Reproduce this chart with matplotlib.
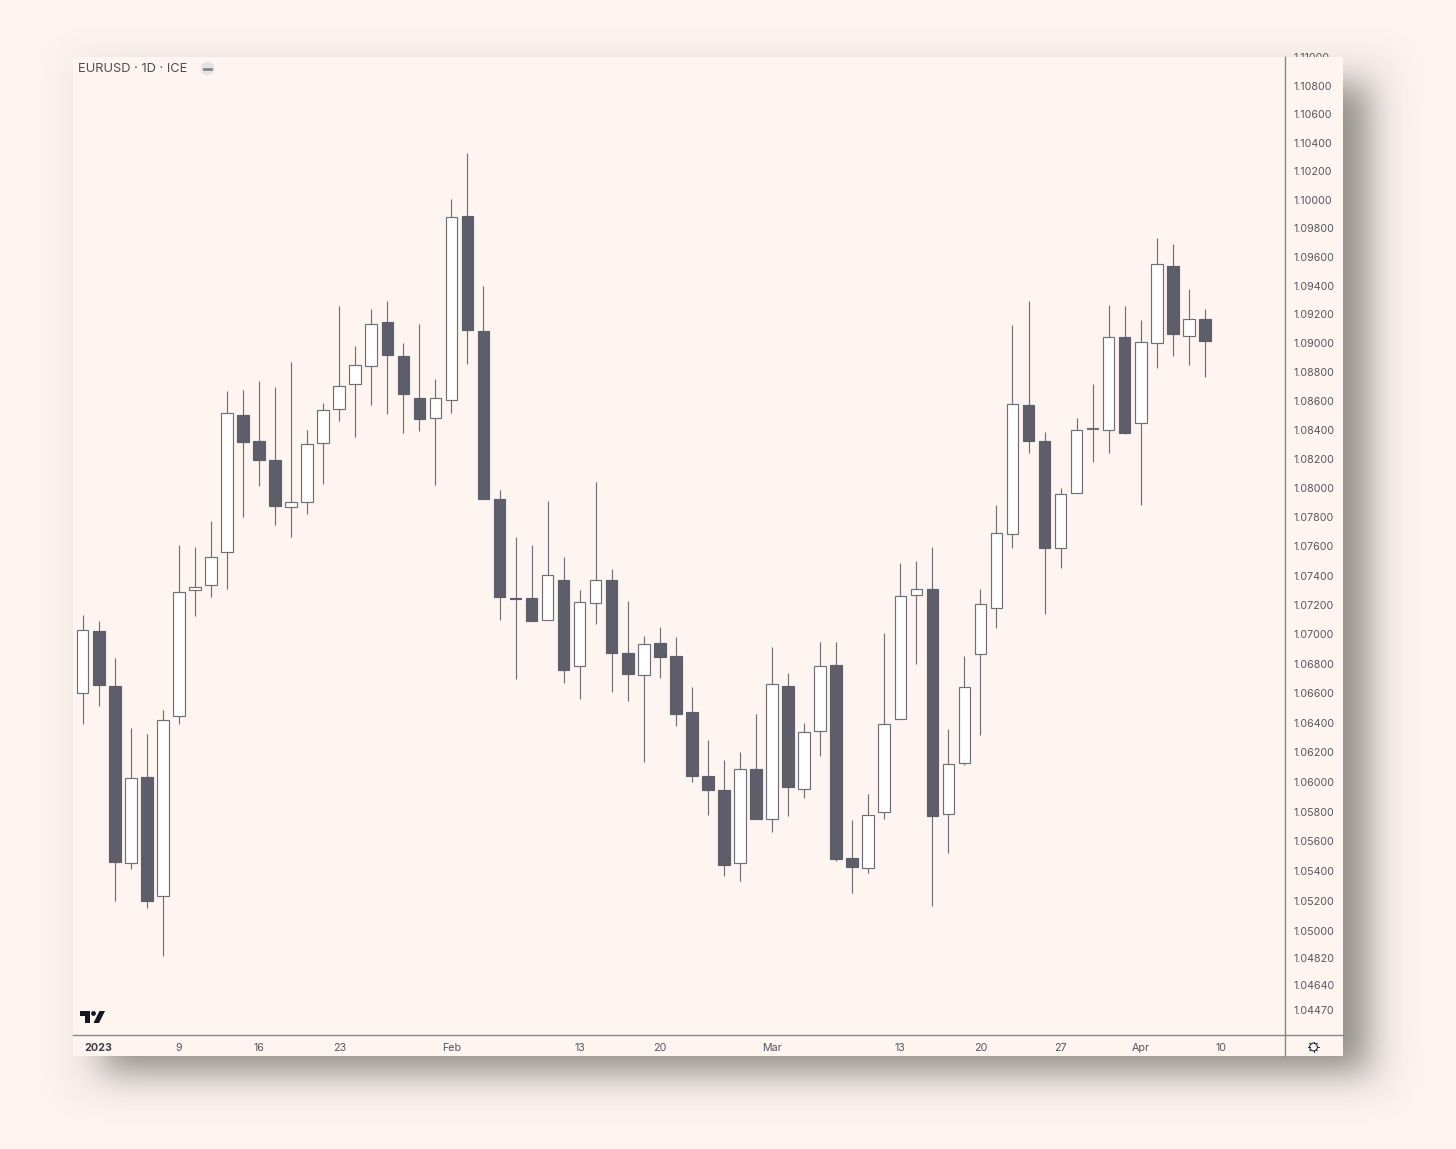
import math

import matplotlib
matplotlib.use("Agg")
import matplotlib.pyplot as plt
import numpy as np
from matplotlib.lines import Line2D
from matplotlib.patches import Circle, Polygon, Rectangle
from matplotlib.ticker import NullLocator
from matplotlib.transforms import Affine2D, TransformedBbox, Bbox

W, H = 1456, 1149
BG = "#fef4ef"
PANEL = "#fef5f0"
DARK = "#5d5e69"
EDGE = "#6e6f78"
TEXT = "#55565e"

opens = [1.06604, 1.07024, 1.06651, 1.05457, 1.06035, 1.05235, 1.06448, 1.07304, 1.07339, 1.07564,
         1.08506, 1.08326, 1.08195, 1.07872, 1.07906, 1.08313, 1.08547, 1.08720, 1.08844, 1.09149,
         1.08913, 1.08623, 1.08485, 1.08609, 1.09887, 1.09086, 1.07927, 1.07250, 1.07250, 1.07099,
         1.07373, 1.06787, 1.07215, 1.07373, 1.06875, 1.06726, 1.06942, 1.06854, 1.06475, 1.06041,
         1.05947, 1.05457, 1.06089, 1.05752, 1.06651, 1.05954, 1.06346, 1.06793, 1.05490, 1.05423,
         1.05799, 1.06428, 1.07270, 1.07311, 1.05786, 1.06129, 1.06868, 1.07181, 1.07687, 1.08575,
         1.08326, 1.07592, 1.07968, 1.08409, 1.08402, 1.09045, 1.08451, 1.09003, 1.09539, 1.09051,
         1.09170]
highs = [1.07133, 1.07092, 1.06841, 1.06367, 1.06326, 1.06488, 1.07612, 1.07598, 1.07776, 1.08672,
         1.08678, 1.08741, 1.08699, 1.08872, 1.08402, 1.08589, 1.09260, 1.08982, 1.09240, 1.09295,
         1.09003, 1.09135, 1.08754, 1.10006, 1.10329, 1.09400, 1.07988, 1.07667, 1.07612, 1.07913,
         1.07530, 1.07304, 1.08044, 1.07448, 1.07229, 1.06990, 1.07051, 1.06983, 1.06644, 1.06285,
         1.06150, 1.06204, 1.06461, 1.06915, 1.06739, 1.06400, 1.06949, 1.06949, 1.05745, 1.05920,
         1.07010, 1.07489, 1.07503, 1.07598, 1.06360, 1.06854, 1.07311, 1.07886, 1.09128, 1.09295,
         1.08389, 1.08002, 1.08485, 1.08720, 1.09267, 1.09260, 1.09163, 1.09734, 1.09692, 1.09379,
         1.09240]
lows = [1.06394, 1.06516, 1.05201, 1.05416, 1.05154, 1.04833, 1.06394, 1.07127, 1.07256, 1.07311,
        1.07804, 1.08016, 1.07749, 1.07667, 1.07824, 1.08030, 1.08464, 1.08354, 1.08575, 1.08513,
        1.08382, 1.08395, 1.08023, 1.08520, 1.08858, 1.07927, 1.07099, 1.06699, 1.07092, 1.07099,
        1.06671, 1.06563, 1.07072, 1.06610, 1.06549, 1.06136, 1.06705, 1.06380, 1.06001, 1.05779,
        1.05369, 1.05336, 1.05752, 1.05665, 1.05772, 1.05893, 1.06177, 1.05470, 1.05255, 1.05390,
        1.05752, 1.06428, 1.06800, 1.05168, 1.05524, 1.06116, 1.06319, 1.07044, 1.07592, 1.08244,
        1.07140, 1.07455, 1.07968, 1.08182, 1.08244, 1.08375, 1.07886, 1.08830, 1.08913, 1.08851,
        1.08768]
closes = [1.07031, 1.06658, 1.05463, 1.06028, 1.05201, 1.06421, 1.07291, 1.07325, 1.07530, 1.08520,
          1.08320, 1.08195, 1.07879, 1.07906, 1.08306, 1.08540, 1.08706, 1.08851, 1.09135, 1.08920,
          1.08651, 1.08478, 1.08623, 1.09880, 1.09093, 1.07927, 1.07256, 1.07243, 1.07092, 1.07407,
          1.06759, 1.07222, 1.07373, 1.06875, 1.06732, 1.06936, 1.06848, 1.06461, 1.06041, 1.05947,
          1.05443, 1.06089, 1.05752, 1.06665, 1.05967, 1.06339, 1.06787, 1.05484, 1.05430, 1.05779,
          1.06394, 1.07263, 1.07311, 1.05772, 1.06123, 1.06644, 1.07209, 1.07694, 1.08582, 1.08326,
          1.07592, 1.07961, 1.08402, 1.08416, 1.09045, 1.08382, 1.09010, 1.09553, 1.09065, 1.09170,
          1.09017]

price_ticks = [1.11, 1.108, 1.106, 1.104, 1.102, 1.10, 1.098, 1.096, 1.094, 1.092, 1.09, 1.088, 1.086,
               1.084, 1.082, 1.08, 1.078, 1.076, 1.074, 1.072, 1.07, 1.068, 1.066, 1.064, 1.062, 1.06,
               1.058, 1.056, 1.054, 1.052, 1.05, 1.0482, 1.0464, 1.0447]
date_ticks = [1, 6, 11, 16, 23, 31, 36, 43, 51, 56, 61, 66, 71]
date_labels = ["2023", "9", "16", "23", "Feb", "13", "20", "Mar", "13", "20", "27", "Apr", "10"]

plt.rcParams["font.family"] = ["Inter", "DejaVu Sans"]

fig = plt.figure(figsize=(W / 100, H / 100), dpi=100, facecolor=BG)
# pixel space of the picture, origin top left
pix = Affine2D().scale(1 / W, -1 / H).translate(0, 1) + fig.transFigure


def soft_edge(n, a, b, sigma):
    t = np.arange(n) + 0.5
    box = ((t >= a) & (t < b)).astype(float)
    k = np.exp(-0.5 * (np.arange(-80, 81) / sigma) ** 2)
    return np.convolve(box, k / k.sum(), mode="same")


# drop shadow of the pasted chart
main = np.outer(soft_edge(H, 84, 1072, 17), soft_edge(W, 103, 1368, 17))
ambient = np.outer(soft_edge(H, 48, 1100, 16), soft_edge(W, 62, 1400, 16))
alpha = np.clip(0.46 * main + 0.04 * ambient, 0, 1)
shadow = np.zeros((H, W, 4))
shadow[..., :3] = 0.16
shadow[..., 3] = alpha
fig.figimage(shadow, 0, 0, origin="upper", zorder=0)

fig.add_artist(Rectangle((73, 57), 1270, 999, transform=pix, facecolor=PANEL, edgecolor="none", zorder=1))

ax = fig.add_axes([72.7 / W, 1 - 1034.5 / H, (1285 - 73) / W, (1034.5 - 57) / H], facecolor="none", zorder=2)
ax.set_yscale("log")
ax.set_xlim(-0.624, 74.98)
ax.set_ylim(1.0431, 1.11003)

x = np.arange(len(opens))
o, h, l, c = map(np.array, (opens, highs, lows, closes))
up = c >= o
ax.vlines(x, l, h, color=EDGE, linewidth=0.85, zorder=3)
body_low = np.minimum(o, c)
body_high = np.maximum(o, c)
ax.bar(x, body_high - body_low, bottom=body_low, width=0.72,
       color=np.where(up, "#ffffff", DARK), edgecolor=np.where(up, EDGE, DARK),
       linewidth=0.85, zorder=4)

for side in ("top", "left", "right", "bottom"):
    ax.spines[side].set_visible(False)

ax.yaxis.tick_right()
ax.set_yticks(price_ticks, labels=[f"{p:.5f}" for p in price_ticks])
ax.yaxis.set_minor_locator(NullLocator())
ax.tick_params(axis="y", length=0, pad=6.4, labelsize=7.7, labelcolor=TEXT)
ax.set_xticks(date_ticks, labels=date_labels)
ax.tick_params(axis="x", length=0, pad=5.9, labelsize=7.7, labelcolor=TEXT)
xlabels = ax.get_xticklabels()
xlabels[0].set_fontweight("bold")
xlabels[0].set_color("#3b3c44")

# top price label is cut by the panel edge
panel_clip = TransformedBbox(Bbox([[0, 1 - 57 / H], [1, 1]]), fig.transFigure)
top_label = ax.yaxis.get_major_ticks()[0].label2
top_label.set_clip_box(panel_clip)
top_label.set_clip_on(True)

line_c = "#85868d"
fig.add_artist(Line2D([1285, 1285], [57, 1056], transform=pix, color=line_c, linewidth=1.0, zorder=3))
fig.add_artist(Line2D([73, 1343], [1035, 1035], transform=pix, color=line_c, linewidth=1.0, zorder=3))

fig.text(78 / W, 1 - 69.5 / H, "EURUSD · 1D · ICE", fontsize=9.3, color="#4d4e56", va="center", ha="left")
fig.add_artist(Circle((207.5, 68.5), 7, transform=pix, facecolor="#e7e3e2", edgecolor="none", zorder=3))
fig.add_artist(Line2D([204, 211], [68.5, 68.5], transform=pix, color="#83848c", linewidth=2.0, zorder=4))

# TradingView logo
logo = "#131722"
fig.add_artist(Polygon([(80, 1011), (90, 1011), (90, 1023), (85, 1023), (85, 1016), (80, 1016)],
                       transform=pix, facecolor=logo, edgecolor="none", zorder=3))
fig.add_artist(Circle((93.5, 1013.5), 2.4, transform=pix, facecolor=logo, edgecolor="none", zorder=3))
fig.add_artist(Polygon([(99.5, 1011), (105, 1011), (99, 1023), (93.5, 1023)],
                       transform=pix, facecolor=logo, edgecolor="none", zorder=3))

# settings gear
gx, gy = 1313.5, 1047
fig.add_artist(Circle((gx, gy), 3.9, transform=pix, facecolor="none", edgecolor="#2a2e39", linewidth=0.8, zorder=3))
for i in range(0, 8):
    a = i * math.pi / 4
    fig.add_artist(Line2D([gx + 3.9 * math.cos(a), gx + 5.3 * math.cos(a)],
                          [gy + 3.9 * math.sin(a), gy + 5.3 * math.sin(a)],
                          transform=pix, color="#2a2e39", linewidth=0.7, zorder=3))

fig.savefig("out.png", dpi=100, facecolor=BG)
